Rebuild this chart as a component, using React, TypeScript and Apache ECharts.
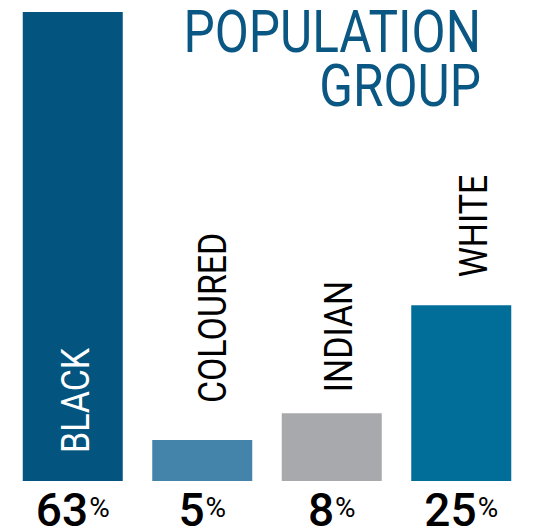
import React, { useEffect, useRef } from "react";
import * as echarts from "echarts";

const categories = ["BLACK", "COLOURED", "INDIAN", "WHITE"];
const barValues = [63, 5.5, 9.1, 23.6];
const shareLabels = ["63", "5", "8", "25"];
const barColors = ["#03547F", "#4584AA", "#A8A9AD", "#006E98"];
const titleText = "POPULATION\nGROUP";

export default function App() {
  const ref = useRef<HTMLDivElement>(null);
  useEffect(() => {
    if (!ref.current) return;
    const chart = echarts.init(ref.current, null, { renderer: "svg" });
    // label placement: inside (from bar base) for the first, above the bar for the rest
    const labelPlace = [
      { inside: true, dx: 3, dist: 28, color: "#ffffff" },
      { inside: false, dx: 10, dist: 37, color: "#000000" },
      { inside: false, dx: 7, dist: 21, color: "#000000" },
      { inside: false, dx: 12, dist: 28, color: "#000000" },
    ];
    chart.setOption({
      animation: false,
      grid: { left: 8, right: 9, top: 12, bottom: 48, containLabel: false, outerBoundsMode: "none" },
      graphic: [
        {
          type: "text",
          x: 481,
          y: 4,
          scaleX: 0.84,
          style: {
            text: titleText,
            align: "right",
            verticalAlign: "top",
            fill: "#0A5784",
            fontFamily: "Roboto, sans-serif",
            fontWeight: 400,
            fontSize: 59,
            lineHeight: 54,
          },
        },
      ],
      xAxis: {
        type: "category",
        data: categories,
        axisLine: { show: false },
        axisTick: { show: false },
        axisLabel: {
          interval: 0,
          margin: 12,
          formatter: (_v: string, i: number) => `{n|${shareLabels[i]}}{p|%}`,
          rich: {
            n: { fontFamily: "Roboto, sans-serif", fontSize: 46, fontWeight: 500, color: "#000", lineHeight: 34 },
            p: { fontFamily: "Roboto, sans-serif", fontSize: 28, fontWeight: 400, color: "#000", verticalAlign: "top", lineHeight: 24, padding: [0, 0, 0, 1] },
          },
        },
      },
      yAxis: { type: "value", min: 0, max: 63, show: false },
      series: [
        {
          type: "bar",
          barWidth: 100,
          data: barValues.map((v, i) => ({ value: v, itemStyle: { color: barColors[i] } })),
        },
        {
          type: "custom",
          data: barValues.map((v, i) => [i, v]),
          z: 5,
          renderItem: (params: any, api: any) => {
            const idx = api.value(0);
            const val = api.value(1);
            const p = labelPlace[idx];
            const top = api.coord([idx, val]);
            const base = api.coord([idx, 0]);
            const y = p.inside ? base[1] - p.dist : top[1] - p.dist;
            return {
              type: "text",
              x: top[0] + p.dx,
              y,
              rotation: Math.PI / 2,
              scaleX: 0.87,
              style: {
                text: categories[idx],
                fill: p.color,
                fontFamily: "Roboto, sans-serif",
                fontSize: 39,
                align: "left",
                verticalAlign: "middle",
              },
            };
          },
        },
      ],
    });
    return () => chart.dispose();
  }, []);
  return <div ref={ref} style={{ width: 535, height: 529, position: "absolute", left: 0, top: 0 }} />;
}
